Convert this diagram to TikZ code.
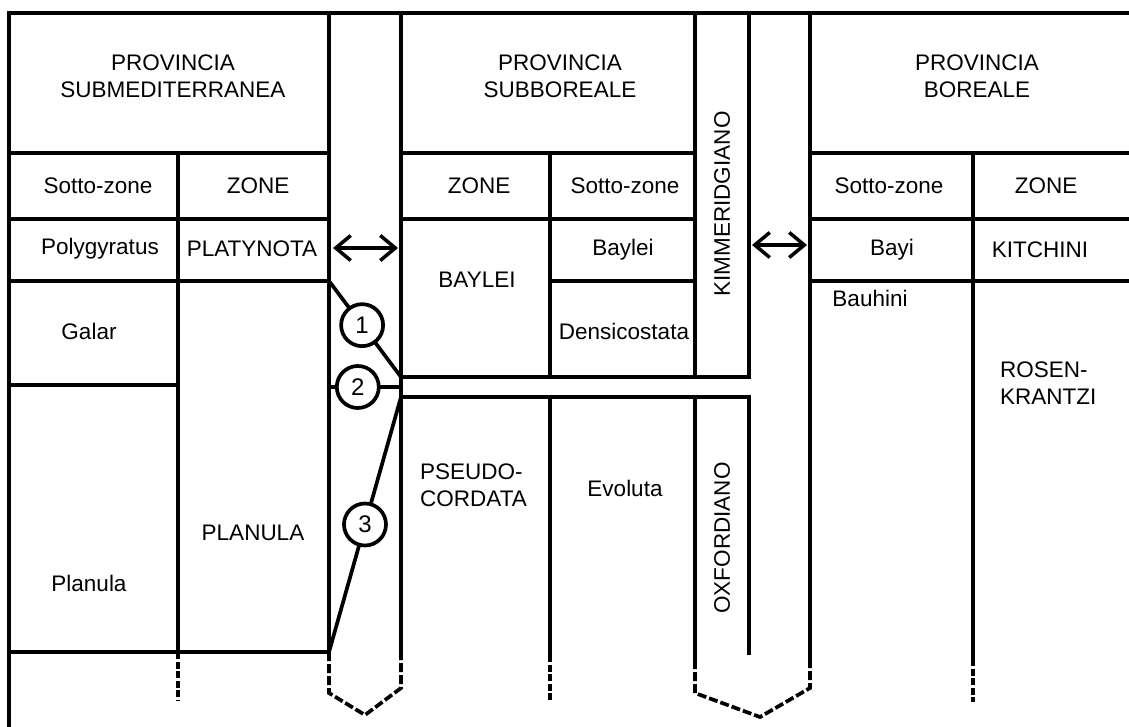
\documentclass[tikz,border=0pt]{standalone}
\usepackage{fontspec}
\setmainfont{Liberation Sans}
\usetikzlibrary{arrows.meta}
\begin{document}
\begin{tikzpicture}[x=1pt,y=-1pt,
  rule/.style={line width=3.7pt,line cap=rect},
  dashline/.style={line width=3.7pt,dash pattern=on 7pt off 2.5pt},
  dashdiag/.style={line width=3.7pt,dash pattern=on 9pt off 3pt},
  lbl/.style={font=\fontsize{22.5}{27}\selectfont,inner sep=0pt,align=center},
  lbll/.style={lbl,align=left,anchor=west},
  num/.style={circle,draw,line width=3.7pt,fill=white,minimum size=42pt,inner sep=0pt,font=\fontsize{24}{28}\selectfont},
  dbl/.style={line width=3.5pt,{Straight Barb[length=15pt,width=25pt,line width=3.5pt]}-{Straight Barb[length=15pt,width=25pt,line width=3.5pt]}}]
\useasboundingbox (0,0) rectangle (1129,727);
% frame
\draw[rule] (9,727) -- (9,13) -- (1129,13);
% left province
\draw[rule] (9,153) -- (329,153);
\draw[rule] (9,219) -- (329,219);
\draw[rule] (9,281) -- (329,281);
\draw[rule] (9,385) -- (178,385);
\draw[rule] (9,652) -- (329,652);
\draw[rule] (178,153) -- (178,652);
\draw[dashline] (178,652) -- (178,701);
\draw[rule] (329,13) -- (329,652);
\draw[rule] (401,13) -- (401,658);
\draw[dashdiag] (329,652) -- (329,693) -- (365,715) -- (401,688) -- (401,658);
% middle province
\draw[rule] (401,153) -- (695,153);
\draw[rule] (401,219) -- (695,219);
\draw[rule] (550,281) -- (695,281);
\draw[rule] (401,377) -- (749,377);
\draw[rule] (401,397) -- (749,397);
\draw[rule] (550,153) -- (550,377);
\draw[rule] (550,397) -- (550,655);
\draw[dashline] (550,655) -- (550,701);
\draw[rule] (695,13) -- (695,377);
\draw[rule] (749,13) -- (749,377);
\draw[rule] (695,397) -- (695,660);
\draw[rule] (749,397) -- (749,653);
\draw[rule] (810,13) -- (810,658);
\draw[dashdiag] (695,660) -- (695,693) -- (760,717) -- (810,688) -- (810,658);
% right province
\draw[rule] (810,153) -- (1129,153);
\draw[rule] (810,219) -- (1129,219);
\draw[rule] (810,281) -- (1129,281);
\draw[rule] (973,153) -- (973,659);
\draw[dashline] (973,659) -- (973,702);
% connectors with circles
\coordinate (d1a) at (329,281); \coordinate (d1b) at (401,377);
\coordinate (d2a) at (329,387); \coordinate (d2b) at (401,387);
\coordinate (d3a) at (329,652); \coordinate (d3b) at (401,397);
\draw[rule] (d1a) -- node[num,pos=0.46] (c1) {1} (d1b);
\draw[rule] (d2a) -- node[num,pos=0.4] (c2) {2} (d2b);
\draw[rule] (d3a) -- node[num,pos=0.5] (c3) {3} (d3b);
% arrows
\coordinate (a1l) at (333,248); \coordinate (a1r) at (398,248);
\coordinate (a2l) at (752,245); \coordinate (a2r) at (807,245);
\draw[dbl] (a1l) -- (a1r);
\draw[dbl] (a2l) -- (a2r);
% texts left
\node[lbl] (h1) at (173,76) {PROVINCIA\\SUBMEDITERRANEA};
\node[lbl] (t1) at (98,186) {Sotto-zone};
\node[lbl] (t2) at (258,186) {ZONE};
\node[lbl] (t3) at (100,249) {Polygyratus};
\node[lbl] (t4) at (252,249) {PLATYNOTA};
\node[lbl] (t5) at (89,331) {Galar};
\node[lbl] (t6) at (89,583) {Planula};
\node[lbl] (t7) at (253,533) {PLANULA};
% texts middle
\node[lbl] (h2) at (560,76) {PROVINCIA\\SUBBOREALE};
\node[lbl] (t8) at (479,186) {ZONE};
\node[lbl] (t9) at (625,186) {Sotto-zone};
\node[lbl] (t10) at (623,250) {Baylei};
\node[lbl] (t11) at (477,280) {BAYLEI};
\node[lbl] (t12) at (624,331) {Densicostata};
\node[lbl,rotate=90] (t13) at (722,204) {KIMMERIDGIANO};
\node[lbll] (t14) at (420,485) {PSEUDO-\\CORDATA};
\node[lbl] (t15) at (625,488) {Evoluta};
\node[lbl,rotate=90] (t16) at (722,538) {OXFORDIANO};
% texts right
\node[lbl] (h3) at (977,76) {PROVINCIA\\BOREALE};
\node[lbl] (t17) at (889,186) {Sotto-zone};
\node[lbl] (t18) at (1046,186) {ZONE};
\node[lbl] (t19) at (892,250) {Bayi};
\node[lbl] (t20) at (1040,250) {KITCHINI};
\node[lbl] (t21) at (870,298) {Bauhini};
\node[lbll] (t22) at (1000,383) {ROSEN-\\KRANTZI};
\end{tikzpicture}
\end{document}
